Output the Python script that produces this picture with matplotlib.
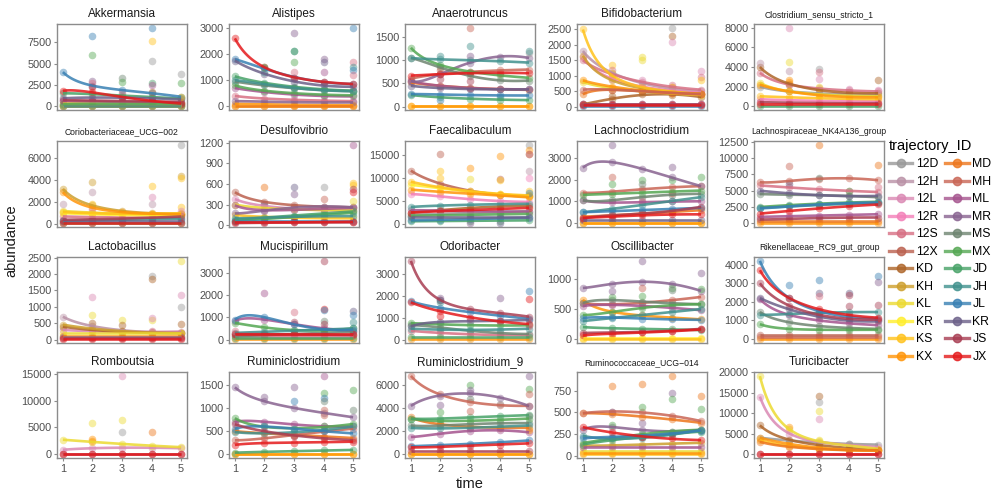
import numpy as np
import matplotlib.pyplot as plt
from matplotlib.lines import Line2D

plt.rcParams['font.family'] = ['Liberation Sans', 'DejaVu Sans']

time = np.array([1, 2, 3, 4, 5])

# trajectory ids (JR is printed as "KR" in the original legend)
traj_ids = ['12D', '12H', '12L', '12R', '12S', '12X', 'KD', 'KH', 'KL', 'KR', 'KS', 'KX',
            'MD', 'MH', 'ML', 'MR', 'MS', 'MX', 'JD', 'JH', 'JL', 'JR', 'JS', 'JX']
legend_labels = ['12D', '12H', '12L', '12R', '12S', '12X', 'KD', 'KH', 'KL', 'KR', 'KS', 'KX',
                 'MD', 'MH', 'ML', 'MR', 'MS', 'MX', 'JD', 'JH', 'JL', 'KR', 'JS', 'JX']

# ---- data: smoothed trajectory levels at time 1..5, plus scattered replicates ----
akkermansia_lines = {
    'JL': [4000, 2400, 1900, 1500, 1100], 'JX': [1800, 1600, 1100, 600, 300],
    'JD': [1500, 1400, 1250, 1050, 900], 'JR': [900, 1000, 1000, 900, 800],
    'JS': [700, 650, 600, 550, 500], 'ML': [600, 550, 500, 450, 400],
    'KL': [300, 400, 450, 400, 350], 'MX': [200, 250, 250, 250, 250],
    '12D': [100, 100, 100, 100, 100], 'KX': [50, 50, 50, 50, 50], 'JH': [0, 0, 0, 0, 0],
    'KS': [20, 20, 20, 20, 20],
}
akkermansia_pts = [('JL', 2, 8200), ('MX', 2, 6000), ('JL', 4, 9200), ('KS', 4, 7700),
                   ('12D', 4, 5300), ('12D', 5, 3800), ('MX', 5, 2700), ('MS', 3, 3300),
                   ('MX', 3, 2800), ('MR', 2, 3000), ('12S', 2, 2700), ('JX', 2, 2200),
                   ('JD', 4, 2700), ('ML', 4, 2500), ('KD', 4, 1600), ('12S', 3, 1500), ('KS', 5, 1100)]

alistipes_lines = {
    'JX': [2600, 1500, 1100, 950, 850], 'JL': [1800, 1450, 1100, 950, 850],
    'JR': [1750, 1250, 950, 800, 750], 'JD': [1150, 900, 750, 650, 600],
    'JH': [1000, 850, 700, 620, 580], 'MS': [950, 800, 700, 620, 580],
    'MX': [800, 600, 500, 450, 420], 'ML': [700, 550, 450, 400, 380],
    '12S': [400, 300, 250, 220, 200], 'MR': [200, 180, 160, 150, 150],
    'KX': [100, 80, 60, 50, 40], 'KS': [10, 10, 10, 10, 10], 'MD': [20, 20, 20, 20, 20],
}
alistipes_pts = [('MR', 3, 2800), ('JH', 3, 2100), ('JD', 3, 2100), ('MX', 3, 1700),
                 ('12S', 3, 1300), ('MR', 4, 1800), ('JR', 4, 1700), ('ML', 4, 1300),
                 ('JL', 5, 3000), ('12S', 5, 1700), ('JH', 5, 1500), ('JL', 5, 1400),
                 ('12S', 5, 1200), ('MX', 2, 1500), ('JH', 2, 1300)]

anaerotruncus_lines = {
    'MX': [1270, 900, 750, 680, 620], 'JH': [1050, 1020, 1000, 980, 950],
    'MR': [550, 700, 950, 1080, 1050], 'MS': [1050, 850, 650, 580, 560],
    'JX': [670, 700, 720, 730, 720], 'MH': [600, 700, 750, 780, 800],
    'MD': [520, 450, 400, 380, 360], 'ML': [550, 450, 400, 380, 370],
    'JR': [450, 400, 380, 370, 370], 'JL': [270, 260, 250, 240, 240],
    'JD': [250, 200, 170, 150, 140], 'KX': [20, 20, 20, 20, 20], 'KS': [10, 10, 10, 10, 10],
}
anaerotruncus_pts = [('MH', 3, 1700), ('JH', 2, 1100), ('JH', 3, 1300), ('MR', 3, 1100),
                     ('12D', 5, 1150), ('JH', 5, 1200), ('JS', 2, 600), ('JS', 3, 550),
                     ('JL', 2, 150), ('JH', 4, 200), ('MH', 2, 800)]

bifido_lines = {
    'KS': [2500, 1000, 650, 480, 400], '12H': [1800, 1100, 750, 600, 500],
    '12R': [1600, 900, 650, 520, 450], 'KH': [1650, 850, 600, 480, 420],
    '12S': [1500, 1050, 800, 650, 550], 'KX': [850, 650, 520, 450, 400],
    'KL': [800, 600, 500, 430, 380], 'MH': [550, 550, 500, 450, 400],
    'MD': [400, 550, 500, 450, 420], 'KD': [80, 250, 400, 380, 320],
    'ML': [100, 100, 100, 100, 100], 'JS': [80, 80, 80, 80, 80],
    'JL': [20, 20, 20, 20, 20], 'JX': [50, 50, 50, 50, 50],
}
bifido_pts = [('12D', 4, 2550), ('KD', 4, 2300), ('12L', 4, 2100), ('KL', 3, 1600),
              ('KL', 3, 1500), ('KS', 2, 1350), ('12S', 2, 1200), ('KL', 2, 1100),
              ('12L', 3, 850), ('12S', 4, 700), ('12L', 5, 1150), ('12S', 5, 950),
              ('KS', 5, 850), ('KD', 2, 350), ('KS', 4, 650)]

clostridium_lines = {
    '12S': [3400, 2200, 1800, 1600, 1500], 'KD': [4000, 2300, 1600, 1400, 1300],
    '12D': [2000, 1500, 1300, 1200, 1150], 'KL': [2400, 1500, 1200, 1050, 1000],
    'KX': [2200, 1500, 1100, 950, 900], 'KS': [1000, 900, 800, 750, 700],
    '12R': [700, 600, 550, 500, 500], 'JS': [400, 350, 300, 300, 300],
    'JX': [250, 250, 250, 250, 250], 'JD': [0, 0, 0, 0, 0],
}
clostridium_pts = [('12L', 2, 8000), ('12H', 1, 4400), ('KL', 2, 4500), ('12H', 2, 3600),
                   ('12D', 3, 3800), ('12S', 3, 3500), ('12L', 3, 2800), ('KD', 5, 2700),
                   ('KX', 2, 2700), ('KX', 2, 2500), ('12L', 4, 1700), ('12L', 5, 1600), ('KL', 3, 2000)]

corio_lines = {
    'KH': [3200, 1700, 1200, 1000, 950], 'KX': [2900, 1500, 1100, 950, 900],
    'KS': [1100, 1000, 950, 950, 1000], 'KL': [1200, 1050, 950, 900, 900],
    'KR': [1000, 900, 850, 800, 800], '12S': [700, 650, 600, 600, 600],
    'JS': [400, 450, 500, 600, 700], 'JH': [300, 350, 400, 450, 500],
    'JR': [250, 250, 250, 250, 250], 'JX': [150, 150, 150, 150, 150], 'MX': [100, 100, 100, 100, 100],
}
corio_pts = [('12D', 5, 7200), ('KH', 5, 4400), ('KS', 5, 4200), ('KH', 2, 3800),
             ('12H', 2, 2900), ('KS', 4, 3500), ('12L', 4, 2500), ('12H', 4, 1800),
             ('KS', 2, 1800), ('12H', 1, 1800), ('KS', 5, 1600), ('12L', 2, 1300), ('12L', 5, 1200)]

desulfo_lines = {
    '12X': [480, 340, 290, 270, 260], '12L': [380, 280, 240, 220, 210],
    'KL': [300, 250, 230, 220, 220], 'ML': [290, 220, 220, 240, 250],
    'MR': [170, 210, 260, 270, 260], 'KS': [150, 120, 110, 100, 100],
    'JD': [80, 110, 140, 170, 200], 'MX': [60, 90, 120, 150, 180],
    'JH': [100, 110, 120, 130, 130], 'JL': [60, 60, 60, 60, 60],
    'JS': [30, 35, 40, 40, 40], 'JX': [40, 40, 40, 45, 50],
}
desulfo_pts = [('ML', 5, 1170), ('MD', 2, 560), ('JR', 3, 560), ('12D', 4, 560), ('MR', 3, 450),
               ('KS', 5, 620), ('KS', 5, 580), ('JS', 5, 520), ('JX', 5, 490), ('MH', 4, 380),
               ('KL', 5, 350), ('JR', 2, 310), ('MH', 3, 270)]

faecali_lines = {
    '12X': [11600, 8800, 7200, 6400, 6000], 'KS': [9200, 8000, 7100, 6600, 6200],
    'KR': [8500, 7800, 7000, 6500, 6000], 'KX': [7500, 7000, 6600, 6200, 5800],
    '12R': [6500, 6000, 5400, 5000, 4800], 'JH': [3700, 4000, 4200, 4300, 4400],
    'KD': [2500, 3000, 3500, 3800, 4000], 'ML': [3000, 2900, 2800, 2700, 2700],
    'JX': [2500, 2800, 3000, 3300, 3500], '12D': [2000, 2200, 2400, 2600, 2800],
    'MX': [1800, 1900, 2000, 2100, 2200], 'JR': [1500, 1500, 1500, 1500, 1500],
    'JL': [800, 900, 1100, 1200, 1400], 'JD': [600, 650, 700, 750, 800],
}
faecali_pts = [('12X', 2, 15300), ('KX', 4, 14800), ('KX', 3, 12100), ('KS', 2, 11500),
               ('KS', 2, 10000), ('KL', 3, 9700), ('12X', 4, 9800), ('KS', 4, 9600),
               ('12D', 5, 17200), ('KX', 5, 16000), ('KX', 5, 15300), ('ML', 5, 15200),
               ('12H', 5, 11500), ('12R', 5, 9900), ('KS', 5, 7100), ('JL', 5, 6800),
               ('MR', 3, 200), ('JR', 4, 300)]

lachno_lines = {
    'MR': [2550, 2800, 2500, 2100, 1700], 'MH': [1400, 1450, 1550, 1650, 1700],
    'MX': [1300, 1350, 1400, 1450, 1500], 'MS': [1050, 1050, 1200, 1300, 1350],
    'ML': [1050, 950, 950, 1000, 1000], 'JH': [500, 650, 850, 1000, 1200],
    'JL': [500, 550, 600, 650, 700], 'JS': [200, 350, 450, 550, 750],
    'MD': [300, 350, 450, 500, 600], 'JX': [250, 300, 350, 400, 400],
    'JR': [150, 150, 150, 150, 150], 'KX': [0, 0, 0, 0, 0], 'KS': [0, 0, 0, 0, 0],
}
lachno_pts = [('MR', 2, 3600), ('MH', 2, 2100), ('MX', 2, 1800), ('MX', 3, 2000), ('MS', 3, 1800),
              ('MR', 4, 2600), ('MX', 4, 2000), ('MX', 5, 2100), ('MH', 4, 1400), ('12S', 3, 1000)]

lachnosp_lines = {
    'MH': [6300, 6500, 6800, 6900, 6600], '12S': [5800, 5500, 5200, 5000, 4800],
    'JR': [5000, 4600, 4300, 4200, 4200], 'MS': [4500, 4400, 4300, 4200, 4000],
    'MX': [2500, 2800, 3000, 3200, 3300], 'JL': [2300, 2600, 2900, 3100, 3200],
    'JH': [2400, 2600, 2800, 3000, 3100], 'JX': [1500, 1900, 2300, 2600, 2900],
    'ML': [1000, 1100, 1200, 1300, 1400], 'JS': [600, 700, 800, 900, 900],
    'MD': [300, 300, 300, 300, 300], 'KX': [50, 50, 50, 50, 50],
}
lachnosp_pts = [('MD', 3, 12000), ('MD', 5, 8900), ('MH', 2, 8700), ('MS', 3, 7000),
                ('12S', 5, 5500), ('MX', 4, 5000), ('JR', 2, 6000)]

lacto_lines = {
    '12H': [700, 420, 280, 240, 220], 'KH': [460, 340, 260, 220, 200],
    'KD': [400, 300, 240, 210, 200], '12L': [300, 260, 240, 240, 250],
    'KL': [200, 200, 200, 200, 200], 'KX': [100, 100, 100, 100, 100],
    'MR': [80, 80, 80, 80, 80], 'JS': [50, 50, 50, 50, 50], 'JX': [20, 20, 20, 20, 20],
}
lacto_pts = [('KL', 5, 2400), ('12D', 4, 1950), ('KD', 4, 1850), ('12L', 5, 1350),
             ('12L', 2, 1300), ('12D', 5, 1000), ('KL', 2, 750), ('KL', 3, 600), ('KL', 4, 600),
             ('12L', 4, 650), ('KD', 5, 480), ('KD', 2, 520), ('KD', 3, 450), ('12S', 4, 270)]

mucis_lines = {
    'JL': [900, 1000, 700, 450, 450], 'ML': [850, 900, 700, 500, 400],
    'MX': [750, 550, 420, 420, 500], 'JH': [300, 350, 400, 450, 500],
    'MS': [150, 200, 250, 300, 350], 'JX': [250, 250, 250, 250, 250],
    'JS': [250, 240, 230, 220, 210], '12S': [150, 150, 150, 150, 150],
    'JD': [50, 50, 50, 50, 50], 'KX': [20, 20, 20, 20, 20],
}
mucis_pts = [('ML', 2, 2100), ('JS', 4, 3550), ('JX', 4, 1400), ('JL', 4, 1350), ('MS', 4, 850),
             ('12S', 3, 1250), ('JS', 3, 800), ('JR', 5, 1300), ('JL', 5, 1100), ('JH', 5, 800),
             ('JS', 4, 700), ('12S', 1, 400)]

odori_lines = {
    'JS': [3600, 1800, 1400, 1200, 1050], 'JL': [1750, 1450, 1250, 1100, 950],
    'JX': [1700, 1300, 1000, 850, 700], 'JR': [600, 800, 850, 850, 900],
    'MX': [750, 700, 650, 650, 650], 'JH': [500, 450, 450, 450, 500],
    'MS': [650, 550, 400, 300, 250], '12S': [400, 300, 250, 200, 200],
    'JD': [100, 100, 100, 100, 100], 'KX': [20, 20, 20, 20, 20],
}
odori_pts = [('MR', 2, 1900), ('JR', 2, 1800), ('JH', 2, 1700), ('MR', 4, 1900), ('JL', 5, 2200),
             ('JX', 5, 1850), ('12S', 3, 1000), ('JX', 2, 1100), ('12S', 5, 600)]

oscill_lines = {
    'MR': [850, 920, 950, 920, 800], 'MS': [600, 650, 620, 600, 580],
    'MX': [400, 450, 520, 560, 580], 'MH': [600, 580, 600, 650, 700],
    'KX': [650, 450, 400, 350, 330], 'ML': [550, 570, 550, 520, 480],
    'JL': [350, 360, 340, 330, 320], 'JH': [300, 350, 400, 450, 500],
    'JD': [200, 180, 170, 160, 150], 'JS': [100, 110, 120, 140, 170],
    'JX': [60, 90, 110, 130, 160], 'KR': [10, 10, 10, 10, 10], 'KS': [0, 0, 0, 0, 0],
}
oscill_pts = [('MR', 3, 1300), ('MR', 5, 1100), ('MH', 3, 850), ('MX', 4, 850), ('MS', 4, 820),
              ('MX', 5, 830), ('MX', 2, 700), ('MR', 2, 800), ('MX', 3, 720)]

riken_lines = {
    'JL': [4200, 2200, 1500, 1200, 1100], 'JX': [3700, 2200, 1600, 1300, 1150],
    'JS': [3000, 1800, 1300, 1100, 1050], 'JR': [2200, 1600, 1200, 1000, 950],
    'ML': [2150, 1300, 1000, 850, 750], 'JH': [1300, 1350, 1400, 1450, 1450],
    'MS': [1450, 900, 700, 600, 550], 'MX': [800, 550, 500, 500, 500],
    '12X': [200, 200, 200, 200, 200], 'MH': [100, 100, 100, 100, 100], 'KX': [0, 0, 0, 0, 0],
}
riken_pts = [('JL', 2, 2900), ('JL', 3, 3200), ('JR', 3, 2500), ('12S', 3, 2300), ('JR', 4, 2450),
             ('JS', 4, 2350), ('JL', 5, 3400), ('MR', 5, 3050), ('JS', 5, 1850), ('JS', 4, 1800)]

rombo_lines = {
    'KL': [2700, 2300, 1900, 1600, 1300], '12L': [800, 1100, 1200, 1200, 1100],
    'JS': [0, 0, 0, 0, 0], 'JX': [0, 0, 0, 0, 0],
}
rombo_pts = [('12L', 3, 14700), ('KL', 3, 6400), ('KL', 2, 5900), ('12D', 3, 4200),
             ('MD', 4, 4100), ('KX', 2, 2800), ('KX', 2, 2500)]

rumini_lines = {
    'MR': [1450, 1150, 1000, 900, 800], 'ML': [700, 700, 650, 600, 600],
    'MX': [780, 600, 550, 600, 650], 'JS': [650, 500, 400, 350, 300],
    'JL': [550, 600, 550, 500, 450], 'JH': [480, 450, 480, 520, 600],
    'MD': [500, 450, 420, 380, 350], 'MH': [300, 350, 400, 500, 550],
    'JX': [200, 240, 250, 260, 270], 'JD': [30, 50, 60, 80, 90],
    'KX': [0, 0, 0, 0, 0], 'KS': [0, 0, 0, 0, 0],
}
rumini_pts = [('ML', 4, 1700), ('MX', 4, 1330), ('MR', 3, 1450), ('JL', 3, 1150), ('JL', 4, 1220),
              ('MS', 4, 1150), ('MX', 5, 1400), ('MS', 5, 950), ('MR', 2, 1250), ('MH', 4, 950),
              ('MH', 4, 850)]

rumini9_lines = {
    'MH': [6800, 5200, 4500, 4300, 4200], 'MR': [4200, 5100, 5300, 4900, 4200],
    'JD': [3100, 3100, 3200, 3300, 3400], 'MX': [3100, 2900, 2900, 3000, 3100],
    'MD': [3200, 2600, 2400, 2300, 2300], 'MS': [2500, 2500, 2600, 2700, 2700],
    'JH': [2300, 2250, 2300, 2400, 2500], 'ML': [1500, 1800, 2000, 2100, 1900],
    'JL': [700, 800, 900, 1050, 1200], 'JX': [600, 650, 750, 850, 950],
    'JS': [300, 300, 300, 300, 300], 'KX': [50, 50, 50, 50, 50], 'KS': [20, 20, 20, 20, 20],
}
rumini9_pts = [('MX', 3, 6000), ('MR', 3, 5600), ('MS', 3, 4800), ('MR', 2, 4300), ('MX', 2, 3700),
               ('MH', 3, 3800), ('12D', 4, 4400), ('MR', 5, 6800), ('MX', 5, 5700), ('MH', 5, 5200),
               ('MS', 5, 3300), ('KX', 5, 2100)]

rumino_lines = {
    'MH': [490, 510, 500, 460, 400], 'MD': [490, 480, 450, 420, 380],
    'JX': [330, 270, 220, 200, 180], 'MR': [300, 330, 300, 280, 300],
    'JH': [230, 200, 200, 250, 300], 'JL': [200, 220, 230, 260, 290],
    'MX': [150, 200, 250, 280, 300], 'JD': [130, 180, 220, 250, 280],
    'KH': [120, 120, 130, 140, 150], 'ML': [100, 100, 100, 100, 100],
    'KL': [50, 50, 50, 50, 50], 'KX': [30, 30, 30, 30, 30], 'KS': [20, 20, 20, 20, 20],
}
rumino_pts = [('MD', 2, 800), ('MD', 3, 830), ('MD', 4, 920), ('MD', 5, 690), ('MR', 4, 720),
              ('MX', 4, 650), ('MX', 3, 560), ('MX', 5, 540), ('MR', 3, 380), ('MR', 2, 510),
              ('MX', 2, 360)]

turici_lines = {
    'KL': [19000, 6000, 3200, 2000, 1300], '12L': [14000, 5000, 3000, 2200, 1700],
    'KD': [7000, 3500, 2200, 1500, 1100], '12D': [4000, 3300, 2800, 2500, 2300],
    'KX': [4000, 2500, 1500, 1100, 900], 'KS': [3500, 2000, 1300, 1000, 800],
    'MD': [3000, 1800, 1200, 1000, 900], 'JS': [50, 50, 50, 50, 50], 'JX': [0, 0, 0, 0, 0],
}
turici_pts = [('KD', 3, 14200), ('12D', 3, 12800), ('KL', 3, 10500), ('12L', 3, 8600),
              ('KX', 2, 6600), ('KL', 3, 3500), ('12D', 4, 2500)]

panel_names = ['Akkermansia', 'Alistipes', 'Anaerotruncus', 'Bifidobacterium', 'Clostridium_sensu_stricto_1',
               'Coriobacteriaceae_UCG\u2212002', 'Desulfovibrio', 'Faecalibaculum', 'Lachnoclostridium',
               'Lachnospiraceae_NK4A136_group', 'Lactobacillus', 'Mucispirillum', 'Odoribacter',
               'Oscillibacter', 'Rikenellaceae_RC9_gut_group', 'Romboutsia', 'Ruminiclostridium',
               'Ruminiclostridium_9', 'Ruminococcaceae_UCG\u2212014', 'Turicibacter']
panel_lines = [akkermansia_lines, alistipes_lines, anaerotruncus_lines, bifido_lines, clostridium_lines,
               corio_lines, desulfo_lines, faecali_lines, lachno_lines, lachnosp_lines,
               lacto_lines, mucis_lines, odori_lines, oscill_lines, riken_lines,
               rombo_lines, rumini_lines, rumini9_lines, rumino_lines, turici_lines]
panel_pts = [akkermansia_pts, alistipes_pts, anaerotruncus_pts, bifido_pts, clostridium_pts,
             corio_pts, desulfo_pts, faecali_pts, lachno_pts, lachnosp_pts,
             lacto_pts, mucis_pts, odori_pts, oscill_pts, riken_pts,
             rombo_pts, rumini_pts, rumini9_pts, rumino_pts, turici_pts]
panel_yticks = [[0, 2500, 5000, 7500], [0, 1000, 2000, 3000], [0, 500, 1000, 1500],
                [0, 500, 1000, 1500, 2000, 2500], [0, 2000, 4000, 6000, 8000],
                [0, 2000, 4000, 6000], [0, 300, 600, 900, 1200], [0, 5000, 10000, 15000],
                [0, 1000, 2000, 3000], [0, 2500, 5000, 7500, 10000, 12500],
                [0, 500, 1000, 1500, 2000, 2500], [0, 1000, 2000, 3000], [0, 1000, 2000, 3000],
                [0, 500, 1000], [0, 1000, 2000, 3000, 4000],
                [0, 5000, 10000, 15000], [0, 500, 1000, 1500], [0, 2000, 4000, 6000],
                [0, 250, 500, 750], [0, 5000, 10000, 15000, 20000]]

# palette: colorRampPalette(rev(brewer Set1))(24)
set1_rev = ['#999999', '#F781BF', '#A65628', '#FFFF33', '#FF7F00',
            '#984EA3', '#4DAF4A', '#377EB8', '#E41A1C']
base = np.array([[int(c[i:i + 2], 16) for i in (1, 3, 5)] for c in set1_rev]) / 255
pos = np.linspace(0, len(base) - 1, len(traj_ids))
palette = {}
for k, p in zip(traj_ids, pos):
    i = min(int(p), len(base) - 2)
    f = p - i
    palette[k] = tuple(base[i] * (1 - f) + base[i + 1] * f)


def smooth(t, y):
    # least squares curve, basis 1, 1/t, t, t^2 (stand-in for geom_smooth)
    t = np.asarray(t, float)
    X = np.column_stack([np.ones_like(t), 1 / t, t, t ** 2])
    coef, *_ = np.linalg.lstsq(X, np.asarray(y, float), rcond=None)
    tt = np.linspace(1, 5, 120)
    XX = np.column_stack([np.ones_like(tt), 1 / tt, tt, tt ** 2])
    return tt, XX @ coef


W, H = 992, 494
fig = plt.figure(figsize=(W / 100, H / 100), dpi=100)

col_left = [57, 229, 405, 577, 754]
row_top = [24, 141, 257, 372]
pw, ph = 130, 86
grey_txt = '#4d4d4d'
border = '#8c8c8c'

for n, name in enumerate(panel_names):
    r, c = divmod(n, 5)
    ax = fig.add_axes([col_left[c] / W, 1 - (row_top[r] + ph) / H, pw / W, ph / H])
    lines = panel_lines[n]
    allv = []
    # points first
    for k in traj_ids:
        if k in lines:
            ax.scatter(time, lines[k], s=30, color=palette[k], alpha=0.45, lw=0, zorder=2)
            allv += lines[k]
    for k, t, v in panel_pts[n]:
        ax.scatter([t], [v], s=30, color=palette[k], alpha=0.45, lw=0, zorder=2)
        allv.append(v)
    for k in traj_ids:
        if k in lines:
            tt, yy = smooth(time, lines[k])
            ax.plot(tt, yy, color=palette[k], lw=1.9, alpha=0.85, zorder=3,
                    solid_capstyle='butt')
    lo, hi = min(allv), max(allv)
    pad = (hi - lo) * 0.05
    ax.set_ylim(lo - pad, hi + pad)
    ax.set_xlim(0.8, 5.2)
    ax.set_yticks(panel_yticks[n])
    ax.set_yticklabels([str(v) for v in panel_yticks[n]])
    ax.tick_params(axis='y', labelsize=7.8, colors=border, labelcolor=grey_txt,
                   length=2.5, width=0.8, pad=1.5)
    ax.set_xticks([1, 2, 3, 4, 5])
    if r == 3:
        ax.tick_params(axis='x', labelsize=7.8, colors=border, labelcolor=grey_txt,
                       length=2.5, width=0.8, pad=1.5)
    else:
        ax.tick_params(axis='x', length=0, labelbottom=False)
    for s in ax.spines.values():
        s.set_color(border)
        s.set_linewidth(1.0)
    fs = 6.2 if len(name) > 22 else 8.5
    ax.set_title(name, fontsize=fs, color='#1a1a1a', pad=5)

fig.text(470 / W, 1 - 484 / H, 'time', ha='center', va='center', fontsize=10.5, color='#1a1a1a')
fig.text(11 / W, 1 - 241 / H, 'abundance', ha='center', va='center', rotation=90,
         fontsize=10.5, color='#1a1a1a')

handles = [Line2D([0], [0], color=palette[k], lw=2.4, alpha=0.8, marker='o', markersize=6)
           for k in traj_ids]
leg = fig.legend(handles, legend_labels, ncol=2, loc='upper left',
                 bbox_to_anchor=(884 / W, 1 - 134 / H), frameon=False,
                 title='trajectory_ID', title_fontsize=10.5, fontsize=8.8,
                 handlelength=1.9, handletextpad=0.3, columnspacing=0.6,
                 labelspacing=0.45, borderaxespad=0)
leg._legend_box.align = 'left'

fig.savefig('out.png', dpi=100)
